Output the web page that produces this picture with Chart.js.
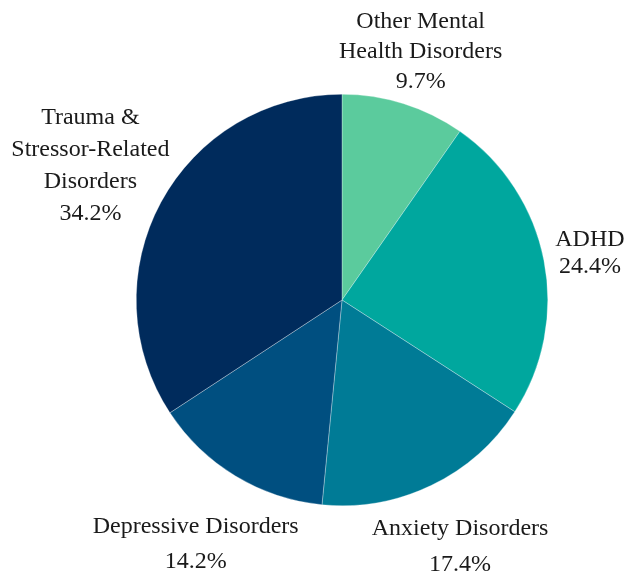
<!DOCTYPE html>
<html>
<head>
<meta charset="utf-8">
<script src="https://cdn.jsdelivr.net/npm/chart.js@4.4.0/dist/chart.umd.min.js"></script>
<style>
html,body{margin:0;padding:0;background:#fff;}
#wrap{width:629px;height:573px;}
</style>
</head>
<body>
<div id="wrap"><canvas id="c" width="629" height="573"></canvas></div>
<script>
const categories = ['Other Mental Health Disorders', 'ADHD', 'Anxiety Disorders', 'Depressive Disorders', 'Trauma & Stressor-Related Disorders'];
const labelLines = [['Other Mental', 'Health Disorders'], ['ADHD'], ['Anxiety Disorders'], ['Depressive Disorders'], ['Trauma &', 'Stressor-Related', 'Disorders']];
const values = [9.7, 24.4, 17.4, 14.2, 34.2];
const colors = ['#5bcb9d', '#00a79e', '#007b96', '#004f80', '#002b5c'];

// label placement: distance factor (x radius) along the slice's mid-angle, and line spacing
const labelDist = [1.273, 1.228, 1.320, 1.374, 1.390];
const labelLineH = [30, 27, 36, 35, 32];

const outsideLabels = {
  id: 'outsideLabels',
  afterDatasetsDraw(chart) {
    const ctx = chart.ctx;
    const meta = chart.getDatasetMeta(0);
    ctx.save();
    ctx.font = '24px "Liberation Serif", "Times New Roman", serif';
    ctx.fillStyle = '#1a1a1a';
    ctx.textAlign = 'center';
    ctx.textBaseline = 'middle';
    meta.data.forEach((arc, i) => {
      const p = arc.getProps(['x', 'y', 'startAngle', 'endAngle', 'outerRadius'], true);
      const mid = (p.startAngle + p.endAngle) / 2;
      const d = p.outerRadius * labelDist[i];
      const cx = p.x + Math.cos(mid) * d;
      const cy = p.y + Math.sin(mid) * d + 2;
      const lines = labelLines[i].concat([values[i].toFixed(1) + '%']);
      const lh = labelLineH[i];
      const top = cy - (lines.length - 1) * lh / 2;
      lines.forEach((t, j) => ctx.fillText(t, cx, top + j * lh));
    });
    ctx.restore();
  }
};

new Chart(document.getElementById('c'), {
  type: 'pie',
  data: {
    labels: categories,
    datasets: [{
      data: values,
      backgroundColor: colors,
      borderColor: 'rgba(255,255,255,0.6)',
      borderWidth: 0.5
    }]
  },
  options: {
    responsive: false,
    animation: false,
    devicePixelRatio: 1,
    layout: { padding: { left: 136, right: 81, top: 94, bottom: 67 } },
    plugins: {
      legend: { display: false },
      tooltip: { enabled: false }
    }
  },
  plugins: [outsideLabels]
});
</script>
</body>
</html>
